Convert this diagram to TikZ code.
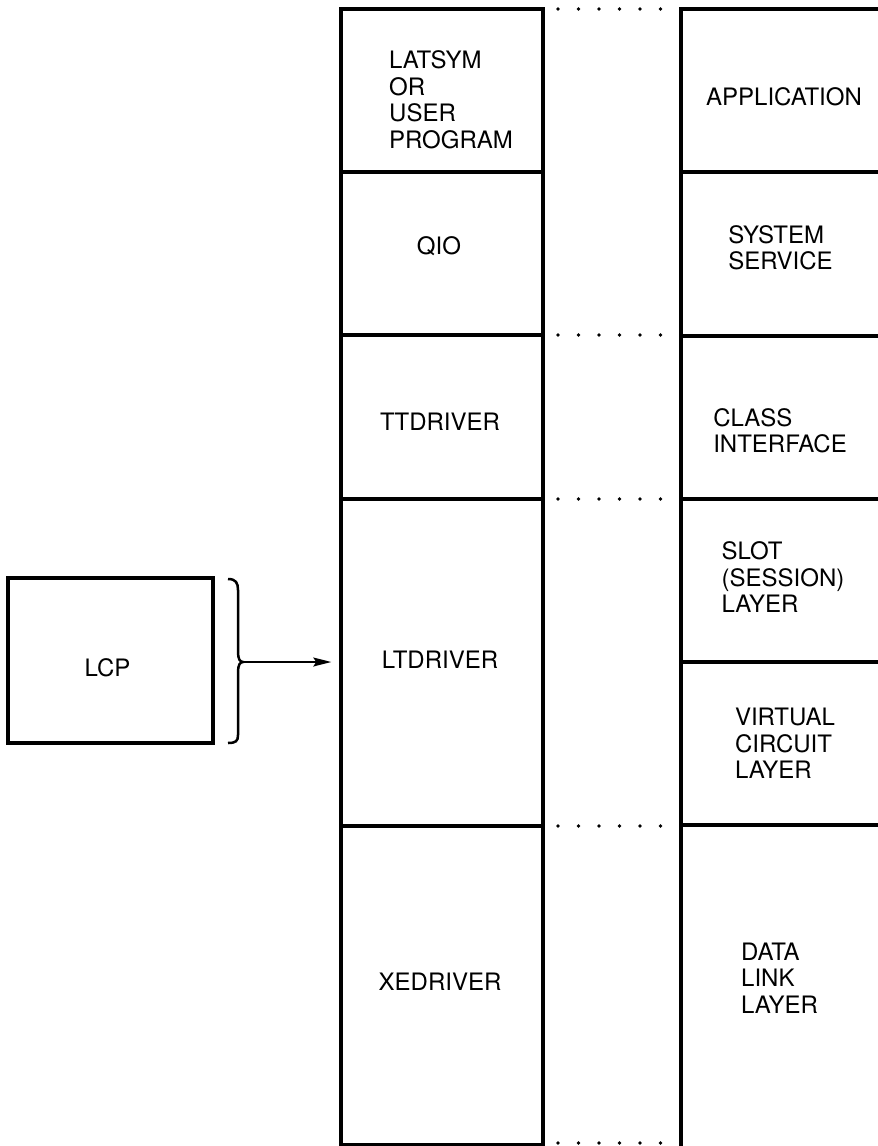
\documentclass[tikz,border=0pt]{standalone}
\usepackage{fontspec}
\setmainfont{TeX Gyre Heros}
\usetikzlibrary{arrows.meta}
\begin{document}
\begin{tikzpicture}[x=1pt,y=-1pt,
  cell/.style={draw,line width=3.5pt,rectangle,minimum width=202pt,inner sep=0pt},
  lcpbox/.style={draw,line width=3.5pt,rectangle,minimum width=205pt,minimum height=165pt,inner sep=0pt},
  txt/.style={font=\fontsize{24}{26.5}\selectfont,inner sep=0pt,align=left},
  rule/.style={line width=3.5pt},
  dotrow/.style={fill=black},
  bracestyle/.style={line width=2.5pt},
  arrowstyle/.style={line width=1.6pt,-{Stealth[length=18pt,width=9pt,inset=3pt]}}]
\useasboundingbox (0,0) rectangle (878,1146);
% left column cells
\node[cell,minimum height=163pt] (c1) at (442,90.5) {};
\node[cell,minimum height=163pt] (c2) at (442,253.5) {};
\node[cell,minimum height=164pt] (c3) at (442,417) {};
\node[cell,minimum height=327pt] (c4) at (442,662.5) {};
\node[cell,minimum height=319pt] (c5) at (442,985.5) {};
% left column texts
\node[txt] (t1) at (451,99.5) {LATSYM\\OR\\USER\\PROGRAM};
\node[txt] (t2) at (439,246.5) {QIO};
\node[txt] (t3) at (440,421.5) {TTDRIVER};
\node[txt] (t4) at (440,659.5) {LTDRIVER};
\node[txt] (t5) at (440,981.5) {XEDRIVER};
% right column
\draw[rule] (885,9) -| (681,1150);
\foreach \yy in {172,336,499,662,825}{\draw[rule] (681,\yy) -- (885,\yy);}
\node[txt] (r1) at (784,97) {APPLICATION};
\node[txt] (r2) at (780.5,247.5) {SYSTEM\\SERVICE};
\node[txt] (r3) at (780,430.5) {CLASS\\INTERFACE};
\node[txt] (r4) at (783,577.5) {SLOT\\(SESSION)\\LAYER};
\node[txt] (r5) at (785,743.5) {VIRTUAL\\CIRCUIT\\LAYER};
\node[txt] (r6) at (779.5,978) {DATA\\LINK\\LAYER};
% dotted rows
\foreach \yy in {9,335,499,826,1143}{
  \foreach \xx in {558,578.5,599,619.5,640,660.5}{\fill[dotrow] (\xx,\yy) circle (1.8pt);}}
% LCP
\node[lcpbox] (lcp) at (110.5,660.5) {};
\node[txt] (lcpt) at (107.5,668) {LCP};
% brace
\coordinate (tip) at (243,662);
\draw[bracestyle] (228,579) .. controls (236,579) and (238,583) .. (238,590) -- (238,652)
  .. controls (238,659) and (240,662) .. (tip)
  .. controls (240,662) and (238,665) .. (238,672) -- (238,735)
  .. controls (238,741) and (236,743) .. (228,743);
\draw[arrowstyle,shorten >=8pt] (tip) -- (tip -| c4.west);
\end{tikzpicture}
\end{document}
